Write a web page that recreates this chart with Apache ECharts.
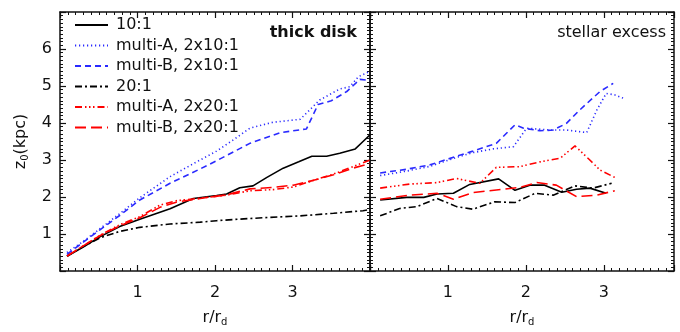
<!DOCTYPE html>
<html>
<head>
<meta charset="utf-8">
<script src="https://cdn.jsdelivr.net/npm/echarts@6/dist/echarts.min.js"></script>
<style>
    html, body { margin: 0; padding: 0; background: #fff; }
    #chart { width: 680px; height: 332px; }
</style>
</head>
<body>
<div id="chart"></div>
<script>
// legend names, same order as the reference
const names = ['10:1', 'multi-A, 2x10:1', 'multi-B, 2x10:1', '20:1', 'multi-A, 2x20:1', 'multi-B, 2x20:1'];

// thick disk panel  [r/rd, z0]
const thick10 = [[0.09,0.40],[0.30,0.65],[0.52,0.93],[0.77,1.20],[1.03,1.40],[1.42,1.68],[1.72,1.96],[2.02,2.04],[2.15,2.08],[2.32,2.25],[2.49,2.30],[2.67,2.53],[2.88,2.78],[3.08,2.95],[3.25,3.10],[3.44,3.10],[3.61,3.18],[3.81,3.30],[3.91,3.50],[4.0,3.68]];
const thickA10 = [[0.09,0.50],[0.30,0.80],[0.52,1.15],[0.77,1.55],[1.03,1.98],[1.42,2.55],[1.72,2.90],[2.02,3.24],[2.24,3.55],[2.45,3.86],[2.75,4.02],[3.10,4.10],[3.35,4.62],[3.61,4.92],[3.74,4.98],[3.85,5.25],[3.98,5.38]];
const thickB10 = [[0.09,0.45],[0.30,0.78],[0.52,1.12],[0.77,1.50],[1.03,1.92],[1.42,2.37],[1.81,2.76],[2.02,2.98],[2.45,3.45],[2.84,3.74],[3.18,3.84],[3.33,4.50],[3.50,4.60],[3.70,4.85],[3.87,5.18],[4.0,5.15]];
const thick20 = [[0.09,0.40],[0.30,0.66],[0.52,0.90],[0.77,1.07],[1.03,1.18],[1.42,1.27],[1.81,1.32],[2.02,1.36],[2.45,1.42],[3.10,1.49],[3.53,1.56],[3.91,1.63],[4.0,1.66]];
const thickA20 = [[0.09,0.40],[0.30,0.68],[0.52,0.97],[0.77,1.25],[1.03,1.47],[1.29,1.78],[1.50,1.90],[1.81,1.97],[2.15,2.05],[2.45,2.17],[2.75,2.20],[3.01,2.27],[3.27,2.45],[3.53,2.62],[3.78,2.82],[4.0,3.00]];
const thickB20 = [[0.09,0.40],[0.30,0.68],[0.52,0.96],[0.77,1.22],[1.03,1.44],[1.29,1.72],[1.50,1.86],[1.81,1.96],[2.15,2.06],[2.45,2.22],[2.75,2.26],[3.01,2.32],[3.27,2.45],[3.53,2.60],[3.78,2.78],[4.0,2.90]];

// stellar excess panel  [r/rd, z0]
const excess10 = [[0.13,1.92],[0.47,1.99],[0.69,1.99],[0.86,2.08],[1.07,2.10],[1.28,2.34],[1.65,2.49],[1.86,2.18],[2.05,2.32],[2.24,2.32],[2.46,2.13],[2.65,2.21],[2.82,2.24],[3.03,2.10]];
const excessA10 = [[0.13,2.58],[0.47,2.70],[0.77,2.83],[1.11,3.07],[1.32,3.20],[1.58,3.30],[1.84,3.36],[2.01,3.86],[2.31,3.81],[2.52,3.81],[2.78,3.74],[2.91,4.35],[3.03,4.80],[3.14,4.76],[3.25,4.67]];
const excessB10 = [[0.13,2.65],[0.47,2.75],[0.77,2.87],[1.11,3.10],[1.32,3.24],[1.62,3.45],[1.86,3.95],[1.97,3.86],[2.18,3.79],[2.35,3.81],[2.52,3.99],[2.69,4.35],[2.95,4.85],[3.12,5.07]];
const excess20 = [[0.13,1.49],[0.38,1.69],[0.60,1.74],[0.86,1.96],[1.11,1.74],[1.32,1.67],[1.60,1.87],[1.86,1.85],[2.12,2.10],[2.35,2.05],[2.63,2.30],[2.86,2.24],[3.10,2.37]];
const excessA20 = [[0.13,2.24],[0.51,2.35],[0.86,2.39],[1.11,2.50],[1.41,2.37],[1.62,2.80],[1.92,2.82],[2.18,2.95],[2.44,3.05],[2.63,3.38],[2.82,3.00],[2.95,2.73],[3.14,2.53]];
const excessB20 = [[0.13,1.94],[0.51,2.05],[0.86,2.10],[1.07,1.94],[1.32,2.12],[1.62,2.19],[1.92,2.26],[2.14,2.39],[2.39,2.32],[2.65,2.01],[2.91,2.05],[3.14,2.17]];

// tick labels shown on the axes
const xLabels = [1, 2, 3];
const yLabels = [1, 2, 3, 4, 5, 6];

const font = 'DejaVu Sans';
const ink = '#111';

const lineStyles = [
    { color: '#000', type: 'solid' },
    { color: '#2a2aff', type: [1.2, 2.8] },
    { color: '#2a2aff', type: [6, 4] },
    { color: '#000', type: [7, 3, 2, 3] },
    { color: '#ff0000', type: [7, 3, 1.5, 2.5, 1.5, 2.5, 1.5, 3] },
    { color: '#ff0000', type: [11, 5] }
];

const makeSeries = (sets, axisIdx) => sets.map((data, i) => ({
    name: names[i],
    type: 'line',
    data: data,
    xAxisIndex: axisIdx,
    yAxisIndex: axisIdx,
    symbol: 'none',
    lineStyle: { width: 1.6, color: lineStyles[i].color, type: lineStyles[i].type },
    itemStyle: { color: lineStyles[i].color },
    z: 5
}));

const frame = (extra) => Object.assign({
    type: 'value',
    axisLine: { show: true, onZero: false, lineStyle: { color: ink, width: 1.5 } },
    axisTick: { show: true, inside: true, length: 6, lineStyle: { color: ink, width: 1.2 } },
    minorTick: { show: true, splitNumber: 10, length: 3, lineStyle: { color: ink, width: 1 } },
    splitLine: { show: false },
    axisLabel: { show: false }
}, extra);

const rich = {
    a: { fontFamily: font, fontSize: 16, color: ink },
    s: { fontFamily: font, fontSize: 10, color: ink, padding: [8, 0, 0, 0] }
};

const xAxisOf = (gridIndex, max, position, named) => frame({
    gridIndex: gridIndex,
    position: position,
    min: 0,
    max: max,
    interval: 1,
    name: named ? '{a|r/r}{s|d}' : '',
    nameLocation: 'middle',
    nameGap: 38,
    nameTextStyle: { rich: rich },
    axisLabel: {
        show: named,
        margin: 14,
        fontFamily: font,
        fontSize: 16,
        color: ink,
        formatter: (v) => (xLabels.indexOf(v) >= 0 ? String(v) : '')
    }
});

const yAxisOf = (gridIndex, position, named) => frame({
    gridIndex: gridIndex,
    position: position,
    min: 0,
    max: 7,
    interval: 1,
    name: named ? '{a|z}{s|0}{a|(kpc)}' : '',
    nameLocation: 'middle',
    nameGap: 30,
    nameTextStyle: { rich: rich },
    axisLabel: {
        show: named,
        margin: 8,
        fontFamily: font,
        fontSize: 16,
        color: ink,
        formatter: (v) => (yLabels.indexOf(v) >= 0 ? String(v) : '')
    }
});

const option = {
    animation: false,
    backgroundColor: '#fff',
    title: [
        { text: 'thick disk', right: 318, top: 20, textStyle: { fontFamily: font, fontSize: 16, fontWeight: 'bold', color: ink } },
        { text: 'stellar excess', right: 9, top: 20, textStyle: { fontFamily: font, fontSize: 16, fontWeight: 'normal', color: ink } }
    ],
    legend: {
        data: names,
        orient: 'vertical',
        left: 74,
        top: 17,
        itemWidth: 33,
        itemHeight: 14,
        itemGap: 4.5,
        padding: 0,
        itemStyle: { opacity: 0 },
        textStyle: { fontFamily: font, fontSize: 16, color: ink, lineHeight: 14, padding: [0, 0, 0, 3] },
        selectedMode: false
    },
    grid: [
        { left: 60, top: 12, width: 310, height: 259 },
        { left: 370, top: 12, width: 304, height: 259 }
    ],
    xAxis: [
        xAxisOf(0, 4, 'bottom', true),
        xAxisOf(0, 4, 'top', false),
        xAxisOf(1, 3.9, 'bottom', true),
        xAxisOf(1, 3.9, 'top', false)
    ],
    yAxis: [
        yAxisOf(0, 'left', true),
        yAxisOf(0, 'right', false),
        yAxisOf(1, 'left', false),
        yAxisOf(1, 'right', false)
    ],
    series: [].concat(
        makeSeries([thick10, thickA10, thickB10, thick20, thickA20, thickB20], 0),
        makeSeries([excess10, excessA10, excessB10, excess20, excessA20, excessB20], 2)
    )
};

const chart = echarts.init(document.getElementById('chart'), null, { renderer: 'canvas' });
chart.setOption(option);
</script>
</body>
</html>
